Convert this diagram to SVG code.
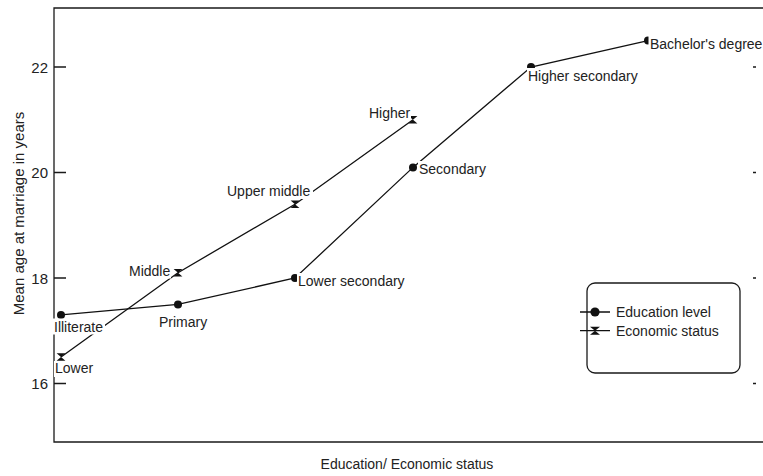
<svg xmlns="http://www.w3.org/2000/svg" width="763" height="476" viewBox="0 0 763 476">
<defs>
<style>
.ax{stroke:#1a1a1a;stroke-width:1.3;fill:none}
.ln{stroke:#111;stroke-width:1.3;fill:none}
.t{font-family:"Liberation Sans",Arial,sans-serif;font-size:14px;fill:#222}
.tk{font-family:"Liberation Sans",Arial,sans-serif;font-size:15px;fill:#222}
.bg{fill:#fff}
.dot{fill:#111}
</style>
<circle id="mc" r="4" class="dot"/>
<polygon id="mh" points="-4.4,-3.8 4.4,-3.8 -4.4,3.8 4.4,3.8" class="dot"/>
<circle id="mcl" r="4.6" class="dot"/>
<polygon id="mhl" points="-5,-4 5,-4 -5,4 5,4" class="dot"/>
</defs>
<rect width="763" height="476" fill="#fff"/>
<g id="axes">
<path class="ax" d="M763,8 H54 V442 H763"/>
<path class="ax" d="M54,67 H66 M54,172.5 H66 M54,278 H66 M54,383.5 H66"/>
<path class="ax" stroke-width="1" d="M753,67 H756 M753,172.5 H756 M753,278 H756 M753,383.5 H756"/>
<text class="tk" x="48" y="72.5" text-anchor="end">22</text>
<text class="tk" x="48" y="178" text-anchor="end">20</text>
<text class="tk" x="48" y="283.5" text-anchor="end">18</text>
<text class="tk" x="48" y="389" text-anchor="end">16</text>
<text class="tk" transform="translate(24,213.5) rotate(-90)" text-anchor="middle">Mean age at marriage in years</text>
<text class="t" x="407" y="469" text-anchor="middle">Education/ Economic status</text>
</g>
<g id="connectors">
<polyline class="ln" points="61,314.9 178,304.4 295,278 413,167.4 531,67 648,40.6"/>
<polyline class="ln" points="61,357 178,272.7 295,204.2 413,119.8"/>
</g>
<g id="markers">
<use href="#mc" x="61" y="314.9"/>
<use href="#mc" x="178" y="304.4"/>
<use href="#mc" x="295" y="278"/>
<use href="#mc" x="413" y="167.4"/>
<use href="#mc" x="531" y="67"/>
<use href="#mc" x="648" y="40.6"/>
<use href="#mh" x="61" y="357"/>
<use href="#mh" x="178" y="272.7"/>
<use href="#mh" x="295" y="204.2"/>
<use href="#mh" x="413" y="119.8"/>
</g>
<g id="label-illiterate"><rect class="bg" x="53" y="318.5" width="52" height="16"/><text class="t" x="54" y="331.5">Illiterate</text></g>
<g id="label-lower"><rect class="bg" x="54" y="361" width="41" height="16"/><text class="t" x="55" y="373">Lower</text></g>
<g id="label-primary"><rect class="bg" x="158" y="314" width="51" height="16"/><text class="t" x="159" y="327">Primary</text></g>
<g id="label-middle"><rect class="bg" x="128" y="263" width="43" height="15.5"/><text class="t" x="129" y="276">Middle</text></g>
<g id="label-uppermiddle"><rect class="bg" x="226" y="183" width="87" height="16"/><text class="t" x="227" y="196">Upper middle</text></g>
<g id="label-higher"><rect class="bg" x="368" y="105" width="43" height="14"/><text class="t" x="369" y="118">Higher</text></g>
<g id="label-lowersecondary"><rect class="bg" x="297" y="273" width="109" height="16"/><text class="t" x="298" y="286">Lower secondary</text></g>
<g id="label-secondary"><rect class="bg" x="418" y="161" width="69" height="16"/><text class="t" x="419" y="174">Secondary</text></g>
<g id="label-highersecondary"><rect class="bg" x="527" y="68" width="112" height="16"/><text class="t" x="528" y="81">Higher secondary</text></g>
<g id="label-bachelor"><rect class="bg" x="648.5" y="35.5" width="114.5" height="16"/><text class="t" x="650" y="48.5">Bachelor's degree</text></g>
<g id="legend">
<rect x="587" y="283" width="153" height="90" rx="8" ry="8" fill="#fff" stroke="#1a1a1a" stroke-width="1.3"/>
<path class="ln" d="M580,312 H610 M580,330.7 H610"/>
<use href="#mcl" x="595" y="312"/>
<use href="#mhl" x="595" y="330.7"/>
<text class="t" x="616" y="317">Education level</text>
<text class="t" x="616" y="335.5">Economic status</text>
</g>
</svg>
